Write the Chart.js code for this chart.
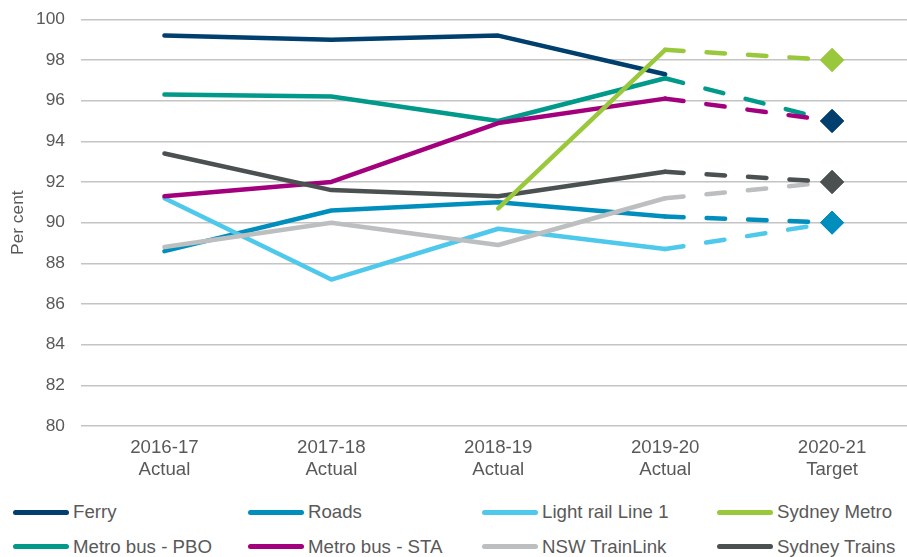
<!DOCTYPE html>
<html>
<head>
<meta charset="utf-8">
<script src="https://cdn.jsdelivr.net/npm/chart.js@4/dist/chart.umd.min.js"></script>
<style>
html,body{margin:0;padding:0;overflow:hidden;background:#fff;width:907px;height:557px;}
#wrap{position:absolute;left:0;top:0;width:928px;height:490px;}
#legend{position:absolute;left:0;top:490px;width:907px;height:67px;}
.leg{position:absolute;font-family:"Liberation Sans",Arial,sans-serif;font-size:18.67px;color:#595959;display:flex;align-items:center;height:24px;white-space:nowrap;}
.leg .ln{display:inline-block;width:56px;height:5px;border-radius:3px;margin-right:4px;}
</style>
</head>
<body>
<div id="wrap"><canvas id="c" width="928" height="490"></canvas></div>
<div id="legend"></div>
<script>
// ---- data ----
const categories = [["2016-17","Actual"],["2017-18","Actual"],["2018-19","Actual"],["2019-20","Actual"],["2020-21","Target"]];
const ferry        = [99.2, 99.0, 99.2, 97.3, 95];
const roads        = [88.6, 90.6, 91.0, 90.3, 90];
const lightRail    = [91.2, 87.2, 89.7, 88.7, 90];
const sydneyMetro  = [null, null, 90.7, 98.5, 98];
const metroBusPBO  = [96.3, 96.2, 95.0, 97.1, 95];
const metroBusSTA  = [91.3, 92.0, 94.9, 96.1, 95];
const nswTrainLink = [88.8, 90.0, 88.9, 91.2, 92];
const sydneyTrains = [93.4, 91.6, 91.3, 92.5, 92];
const yMin = 80, yMax = 100, yStep = 2;

const seriesDefs = [
  {label:"Ferry", data:ferry, color:"#003f6e", diamond:true, noDash:true, order:7},
  {label:"Roads", data:roads, color:"#008ebd", diamond:true, order:6},
  {label:"Light rail Line 1", data:lightRail, color:"#4ec8eb", diamond:false, order:5},
  {label:"Sydney Metro", data:sydneyMetro, color:"#9ac83c", diamond:true, order:0},
  {label:"Metro bus - PBO", data:metroBusPBO, color:"#00998a", diamond:false, order:4},
  {label:"Metro bus - STA", data:metroBusSTA, color:"#a2007c", diamond:false, order:3},
  {label:"NSW TrainLink", data:nswTrainLink, color:"#bcbec0", diamond:false, order:2},
  {label:"Sydney Trains", data:sydneyTrains, color:"#4b5050", diamond:true, order:1}
];

const FONT = '"Liberation Sans", Arial, sans-serif';
const TXT = '#595959';
const lastIdx = categories.length - 1;

const datasets = seriesDefs.map(s => ({
  label: s.label,
  data: s.data,
  order: s.order,
  borderColor: s.color,
  backgroundColor: s.color,
  borderWidth: 4.5,
  borderCapStyle: 'round',
  borderJoinStyle: 'round',
  tension: 0,
  fill: false,
  pointStyle: 'rectRot',
  pointRadius: s.data.map((v,i) => (s.diamond && i === lastIdx) ? 11.5 : 0),
  pointBackgroundColor: s.color,
  pointBorderColor: s.color,
  pointBorderWidth: 1,
  segment: {
    borderDash: ctx => ctx.p1DataIndex === lastIdx ? [18.5, 23] : undefined,
    borderColor: ctx => (s.noDash && ctx.p1DataIndex === lastIdx) ? 'rgba(0,0,0,0)' : undefined
  }
}));

// redraw the target diamonds above all lines
const diamondsOnTop = {
  id: 'diamondsOnTop',
  afterDatasetsDraw(chart) {
    const ctx = chart.ctx;
    chart.data.datasets.forEach((ds, i) => {
      if (!seriesDefs[i].diamond) return;
      const meta = chart.getDatasetMeta(i);
      const pt = meta.data[lastIdx];
      if (pt) pt.draw(ctx, chart.chartArea);
    });
  }
};

new Chart(document.getElementById('c'), {
  type: 'line',
  data: { labels: categories, datasets },
  plugins: [diamondsOnTop],
  options: {
    responsive: false,
    animation: false,
    devicePixelRatio: 1,
    events: [],
    layout: { padding: { top: 19.3, left: 0, right: 0, bottom: 0 } },
    plugins: { legend: { display: false }, tooltip: { enabled: false } },
    scales: {
      x: {
        type: 'category',
        offset: true,
        grid: { display: false, drawTicks: false },
        border: { display: false },
        ticks: { color: TXT, font: { family: FONT, size: 18.67, lineHeight: 1.16 }, padding: 11, maxRotation: 0, autoSkip: false },
        afterFit: s => { s.height = 64; }
      },
      y: {
        min: yMin, max: yMax,
        grid: { color: '#c4c4c4', lineWidth: 1.5, drawTicks: false },
        border: { display: false },
        ticks: { stepSize: yStep, color: TXT, font: { family: FONT, size: 17.33 }, padding: 16 },
        title: { display: true, text: 'Per cent', color: TXT, font: { family: FONT, size: 17.33, lineHeight: 1.2 }, padding: { top: 8, bottom: 0 } },
        afterFit: s => { s.width = 81; s.paddingTop = 0; s.paddingBottom = 0; }
      }
    }
  }
});

// ---- legend (HTML) ----
const legend = document.getElementById('legend');
const colX = [13, 248, 482, 717];
const rowY = [22, 56.7];
seriesDefs.forEach((s, i) => {
  const d = document.createElement('div');
  d.className = 'leg';
  d.style.left = colX[i % 4] + 'px';
  d.style.top = (rowY[Math.floor(i / 4)] - 12) + 'px';
  const ln = document.createElement('span');
  ln.className = 'ln';
  ln.style.background = s.color;
  d.appendChild(ln);
  d.appendChild(document.createTextNode(s.label));
  legend.appendChild(d);
});
</script>
</body>
</html>
